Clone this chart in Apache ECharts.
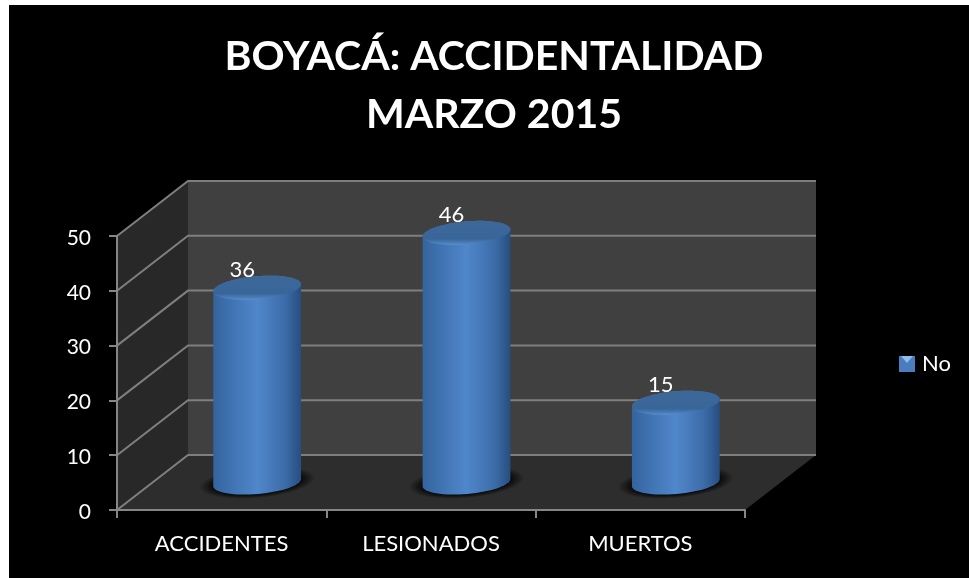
<!DOCTYPE html>
<html>
<head>
<meta charset="utf-8">
<title>Boyacá accidentalidad</title>
<script src="https://cdn.jsdelivr.net/npm/echarts@6/dist/echarts.min.js"></script>
<style>
html, body { margin: 0; padding: 0; background: #fff; }
#panel { position: absolute; left: 9px; top: 5px; right: 0; bottom: 0; background: #000; }
#chart { position: absolute; left: 0; top: 0; width: 969px; height: 578px; }
</style>
</head>
<body>
<div id="panel"></div>
<div id="chart"></div>
<script>
var categories = ['ACCIDENTES', 'LESIONADOS', 'MUERTOS'];
var values = [36, 46, 15];
var yTicks = [0, 10, 20, 30, 40, 50];
var seriesName = 'No';

// profundidad del falso 3D
var depthX = 71, depthY = 55;
var font = 'Lato';

var chartDom = document.getElementById('chart');
var myChart = echarts.init(chartDom);

function ellipsePoints(cx, cy, rx, ry, tilt) {
    var pts = [];
    for (var i = 0; i < 64; i++) {
        var a = i / 64 * Math.PI * 2;
        var x = rx * Math.cos(a), y = ry * Math.sin(a);
        pts.push([cx + x * Math.cos(tilt) - y * Math.sin(tilt), cy + x * Math.sin(tilt) + y * Math.cos(tilt)]);
    }
    return pts;
}

function renderWalls(params, api) {
    var sys = params.coordSys;
    var t = api.value(1);
    var y = api.coord([0, t])[1];
    var left = sys.x, right = sys.x + sys.width, top = sys.y, bottom = sys.y + sys.height;
    var children = [];
    var gridStyle = { stroke: '#7f7f7f', lineWidth: 2, fill: null };
    if (params.dataIndex === 0) {
        children.push({ type: 'polygon', shape: { points: [[left + depthX, top - depthY], [right + depthX, top - depthY], [right + depthX, bottom - depthY], [left + depthX, bottom - depthY]] }, style: { fill: '#404040' } });
        children.push({ type: 'polygon', shape: { points: [[left, top], [left + depthX, top - depthY], [left + depthX, bottom - depthY], [left, bottom]] }, style: { fill: '#282828' } });
        children.push({ type: 'polygon', shape: { points: [[left, bottom], [right, bottom], [right + depthX, bottom - depthY], [left + depthX, bottom - depthY]] }, style: { fill: '#2d2d2d' } });
    }
    children.push({ type: 'polyline', shape: { points: [[left, y], [left + depthX, y - depthY], [right + depthX, y - depthY]] }, style: gridStyle });
    return { type: 'group', children: children };
}

function renderCylinder(params, api) {
    var base = api.coord([api.value(0), 0]);
    var top = api.coord([api.value(0), api.value(1)]);
    var cx = base[0] + depthX / 2;
    var by = base[1] - depthY / 2;
    var ty = top[1] - depthY / 2 + 2.5;
    var rx = api.size([1, 0])[0] * 0.2105;
    var ry = 11.5, tilt = -5 * Math.PI / 180;

    var lower = ellipsePoints(cx, by, rx, ry, tilt);
    var upper = ellipsePoints(cx, ty, rx, ry, tilt);
    // cuerpo: medio contorno inferior de la base + medio contorno superior de la tapa
    var body = lower.slice(0, 33).concat(upper.slice(32).concat(upper.slice(0, 1)));

    return {
        type: 'group',
        children: [
            {
                // sombra difusa sobre el piso
                type: 'circle',
                x: cx,
                y: by,
                scaleY: 0.27,
                rotation: 5 * Math.PI / 180,
                shape: { cx: 0, cy: 0, r: rx + 14 },
                style: {
                    fill: new echarts.graphic.RadialGradient(0.5, 0.5, 0.5, [
                        { offset: 0, color: 'rgba(0,0,0,0.85)' },
                        { offset: 0.75, color: 'rgba(0,0,0,0.8)' },
                        { offset: 1, color: 'rgba(0,0,0,0)' }
                    ])
                }
            },
            {
                type: 'polygon',
                shape: { points: body },
                style: {
                    fill: new echarts.graphic.LinearGradient(0, 0, 1, 0, [
                        { offset: 0, color: '#34649c' },
                        { offset: 0.1, color: '#3a6ba8' },
                        { offset: 0.5, color: '#5087cb' },
                        { offset: 0.82, color: '#3c6ca8' },
                        { offset: 1, color: '#264e80' }
                    ])
                }
            },
            {
                type: 'polygon',
                shape: { points: upper },
                style: {
                    fill: new echarts.graphic.LinearGradient(0, 0, 0, 1, [
                        { offset: 0, color: '#3c6799' },
                        { offset: 0.75, color: '#396699' },
                        { offset: 0.92, color: '#4c7fba' },
                        { offset: 1, color: '#5a8fcf' }
                    ])
                }
            },
            {
                type: 'text',
                style: {
                    x: cx - 15,
                    y: ty - 18,
                    text: String(api.value(1)),
                    fill: '#fff',
                    font: '22px ' + font,
                    align: 'center',
                    verticalAlign: 'middle'
                }
            }
        ]
    };
}

var option = {
    animation: false,
    backgroundColor: 'transparent',
    textStyle: { fontFamily: font },
    title: {
        text: 'BOYACÁ: ACCIDENTALIDAD\nMARZO 2015',
        left: 489,
        top: 23,
        textAlign: 'center',
        textStyle: { color: '#fff', fontFamily: font, fontSize: 41, fontWeight: 'bold', lineHeight: 58 }
    },
    legend: {
        data: [seriesName],
        left: 894,
        top: 348,
        itemWidth: 16,
        itemHeight: 16,
        itemGap: 0,
        icon: 'rect',
        textStyle: { color: '#fff', fontFamily: font, fontSize: 22, padding: [0, 0, 0, 2] },
        selectedMode: false
    },
    grid: { left: 117, top: 236, width: 628, height: 274 },
    xAxis: {
        type: 'category',
        data: categories,
        z: 5,
        axisLine: { lineStyle: { color: '#868686', width: 2 } },
        axisTick: { show: true, length: 8, alignWithLabel: false, lineStyle: { color: '#868686', width: 2 } },
        axisLabel: { color: '#fff', fontSize: 22, margin: 23, fontFamily: font },
        splitLine: { show: false }
    },
    yAxis: {
        type: 'value',
        min: 0,
        max: 50,
        interval: 10,
        z: 5,
        axisLine: { show: true, lineStyle: { color: '#868686', width: 2 } },
        axisTick: { show: true, length: 8, lineStyle: { color: '#868686', width: 2 } },
        axisLabel: { color: '#fff', fontSize: 21, margin: 26, fontFamily: font, verticalAlign: 'top', lineHeight: 4 },
        splitLine: { show: false }
    },
    series: [
        {
            type: 'custom',
            name: 'walls',
            z: 1,
            silent: true,
            clip: false,
            renderItem: renderWalls,
            data: yTicks.map(function (t) { return [0, t]; })
        },
        {
            type: 'custom',
            name: seriesName,
            z: 3,
            clip: false,
            renderItem: renderCylinder,
            itemStyle: { color: '#4a7dbd' },
            data: values.map(function (v, i) { return [i, v]; })
        }
    ],
    graphic: [
        // brillo del marcador de la leyenda
        { type: 'polygon', z: 10, shape: { points: [[901, 356], [913, 356], [907, 363]] }, style: { fill: '#8fbdf0' } }
    ]
};

myChart.setOption(option);
</script>
</body>
</html>
